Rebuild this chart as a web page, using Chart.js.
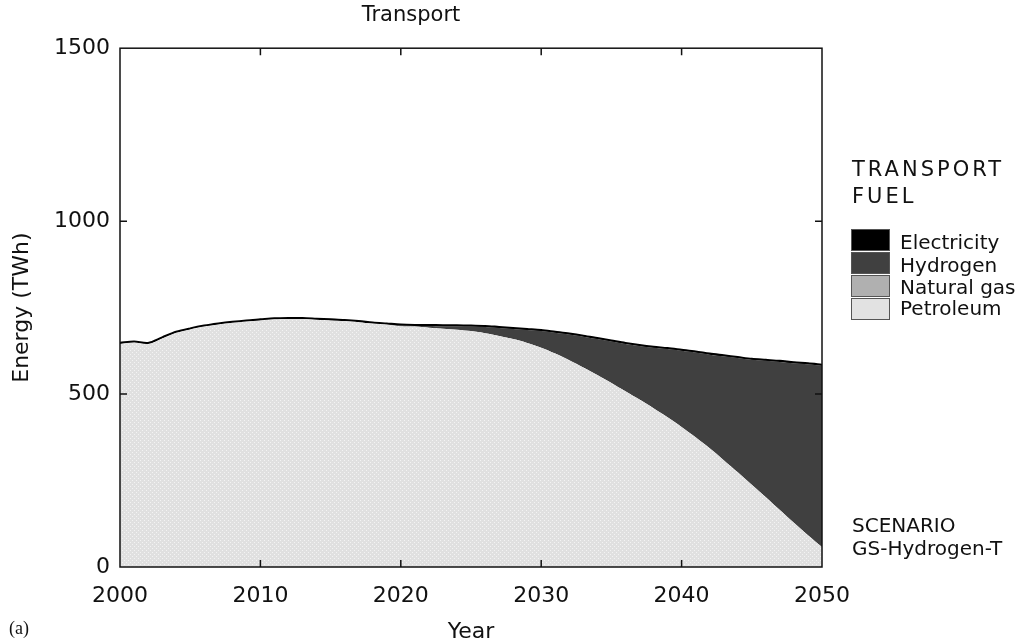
<!DOCTYPE html>
<html lang="en">
<head>
<meta charset="UTF-8">
<title>Transport</title>
<script src="https://cdn.jsdelivr.net/npm/chart.js/dist/chart.umd.min.js"></script>
<style>
  body { margin: 0; background: #fff; }
  #wrap { position: relative; width: 1030px; height: 643px; font-family: "DejaVu Sans", sans-serif; color: #111; }
  #myChart { position: absolute; left: 0; top: 0; }
  .txt { position: absolute; white-space: nowrap; line-height: 1; }
  .head { font-size: 21px; letter-spacing: 3px; }
  .key { position: absolute; left: 851px; width: 39px; height: 22px; border: 1px solid #555; box-sizing: border-box; }
  .lab { font-size: 20px; left: 900px; }
</style>
</head>
<body>
<div id="wrap">
  <canvas id="myChart" width="1030" height="643"></canvas>

  <div class="txt head" style="left:852px; top:159px;">TRANSPORT</div>
  <div class="txt head" style="left:852px; top:186px;">FUEL</div>

  <div class="key" style="top:229px; background:#000;"></div>
  <div class="key" style="top:252px; background:#404040;"></div>
  <div class="key" style="top:275px; background:#b0b0b0;"></div>
  <div class="key" style="top:298px; background:#e2e2e2;"></div>
  <div class="txt lab" style="top:232px;">Electricity</div>
  <div class="txt lab" style="top:255px;">Hydrogen</div>
  <div class="txt lab" style="top:277px;">Natural gas</div>
  <div class="txt lab" style="top:298px;">Petroleum</div>

  <div class="txt" style="left:852px; top:515px; font-size:20px;">SCENARIO</div>
  <div class="txt" style="left:852px; top:538px; font-size:20px;">GS-Hydrogen-T</div>

  <div class="txt" style="left:9px; top:619px; font-size:18px; font-family:'Liberation Serif', serif;">(a)</div>
</div>

<script>
  // years 2000..2050
  const years = [];
  for (let y = 2000; y <= 2050; y++) years.push(y);

  // TWh
  const petroleum = [
    645, 649, 645, 661, 677, 687, 695, 701, 706, 710,
    713, 716, 717, 717, 715, 713, 711, 708, 704, 701,
    696, 695, 692, 689, 686, 682, 676, 668, 659, 648,
    634, 617, 598, 577, 555, 532, 508, 484, 459, 433,
    405, 375, 343, 309, 274, 238, 202, 165, 128, 92,
    58
  ];
  const naturalGas = [
    0, 0, 0, 0, 0, 0, 0, 0, 0, 0,
    0, 0, 0, 0, 0, 0, 0, 0, 0, 0,
    0, 0, 0, 0, 0, 0, 0, 0, 0, 0,
    0, 0, 0, 0, 0, 0, 0, 0, 0, 0,
    0, 0, 0, 0, 0, 0, 0, 0, 0, 0,
    0
  ];
  const hydrogen = [
    0, 0, 0, 0, 0, 0, 0, 0, 0, 0,
    0, 0, 0, 0, 0, 0, 0, 0, 0, 0,
    2, 2, 5, 7, 10, 13, 18, 23, 29, 37,
    48, 60, 74, 89, 104, 120, 137, 155, 175, 197,
    220, 245, 271, 300, 330, 361, 394, 428, 461, 494,
    524
  ];
  const electricity = [
    3, 3, 3, 3, 3, 3, 3, 3, 3, 3,
    3, 3, 3, 3, 3, 3, 3, 3, 3, 3,
    3, 3, 3, 3, 3, 3, 3, 3, 3, 3,
    3, 3, 3, 3, 3, 3, 3, 3, 3, 3,
    3, 3, 3, 3, 3, 3, 3, 3, 3, 3,
    3
  ];

  const xTicks = [2000, 2010, 2020, 2030, 2040, 2050];
  const yTicks = [0, 500, 1000, 1500];

  function pts(vals) {
    return vals.map((v, i) => ({ x: years[i], y: v }));
  }

  // stippled light grey for petroleum
  function stipple() {
    const c = document.createElement('canvas');
    c.width = 4; c.height = 4;
    const g = c.getContext('2d');
    g.fillStyle = '#e0e0e0';
    g.fillRect(0, 0, 4, 4);
    g.fillStyle = '#f3f3f3';
    g.fillRect(0, 0, 1, 1);
    g.fillRect(2, 2, 1, 1);
    return g.createPattern(c, 'repeat');
  }

  // frame + inward ticks like the original plot
  const frame = {
    id: 'frame',
    afterDatasetsDraw(chart) {
      const { ctx, chartArea: a, scales } = chart;
      ctx.save();
      ctx.strokeStyle = '#111';
      ctx.lineWidth = 1.5;
      ctx.strokeRect(a.left, a.top, a.right - a.left, a.bottom - a.top);
      ctx.beginPath();
      xTicks.slice(1, -1).forEach(t => {
        const x = scales.x.getPixelForValue(t);
        ctx.moveTo(x, a.bottom); ctx.lineTo(x, a.bottom - 7);
        ctx.moveTo(x, a.top); ctx.lineTo(x, a.top + 7);
      });
      yTicks.slice(1, -1).forEach(t => {
        const y = scales.y.getPixelForValue(t);
        ctx.moveTo(a.left, y); ctx.lineTo(a.left + 7, y);
        ctx.moveTo(a.right, y); ctx.lineTo(a.right - 7, y);
      });
      ctx.stroke();
      ctx.restore();
    }
  };

  const font = { family: 'DejaVu Sans', size: 22 };

  const data = {
    datasets: [
      { label: 'Petroleum', data: pts(petroleum), backgroundColor: stipple(), borderWidth: 0, fill: 'origin' },
      { label: 'Natural gas', data: pts(naturalGas), backgroundColor: '#b0b0b0', borderWidth: 0, fill: '-1' },
      { label: 'Hydrogen', data: pts(hydrogen), backgroundColor: '#404040', borderWidth: 0, fill: '-1' },
      { label: 'Electricity', data: pts(electricity), backgroundColor: '#000', borderColor: '#000', borderWidth: 2, fill: '-1' }
    ]
  };

  const config = {
    type: 'line',
    data: data,
    options: {
      responsive: false,
      animation: false,
      elements: { point: { radius: 0 }, line: { tension: 0.3 } },
      layout: { padding: { left: 0, right: 208, top: 0, bottom: 0 } },
      plugins: {
        legend: { display: false },
        tooltip: { enabled: false },
        title: {
          display: true,
          text: 'Transport',
          color: '#111',
          font: { family: 'DejaVu Sans', size: 21, weight: 'normal', lineHeight: 1.2 },
          padding: { top: 3, bottom: 20 }
        }
      },
      scales: {
        x: {
          type: 'linear',
          min: 2000,
          max: 2050,
          afterFit(s) { s.height = 76; },
          afterBuildTicks(s) { s.ticks = xTicks.map(v => ({ value: v })); },
          grid: { display: false, drawTicks: false },
          border: { display: false },
          ticks: { color: '#111', font: font, padding: 16, maxRotation: 0, callback: v => String(v) },
          title: { display: true, text: 'Year', color: '#111', font: { family: 'DejaVu Sans', size: 22, lineHeight: 1 }, padding: { top: 0, bottom: 0 } }
        },
        y: {
          stacked: true,
          min: 0,
          max: 1500,
          afterFit(s) { s.width = 120; },
          afterBuildTicks(s) { s.ticks = yTicks.map(v => ({ value: v })); },
          grid: { display: false, drawTicks: false },
          border: { display: false },
          ticks: { color: '#111', font: font, padding: 10, callback: v => String(v) },
          title: { display: true, text: 'Energy (TWh)', color: '#111', font: { family: 'DejaVu Sans', size: 22, lineHeight: 1.2 }, padding: { top: 9, bottom: 9 } }
        }
      }
    },
    plugins: [frame]
  };

  const myChart = new Chart(document.getElementById('myChart'), config);
</script>
</body>
</html>
